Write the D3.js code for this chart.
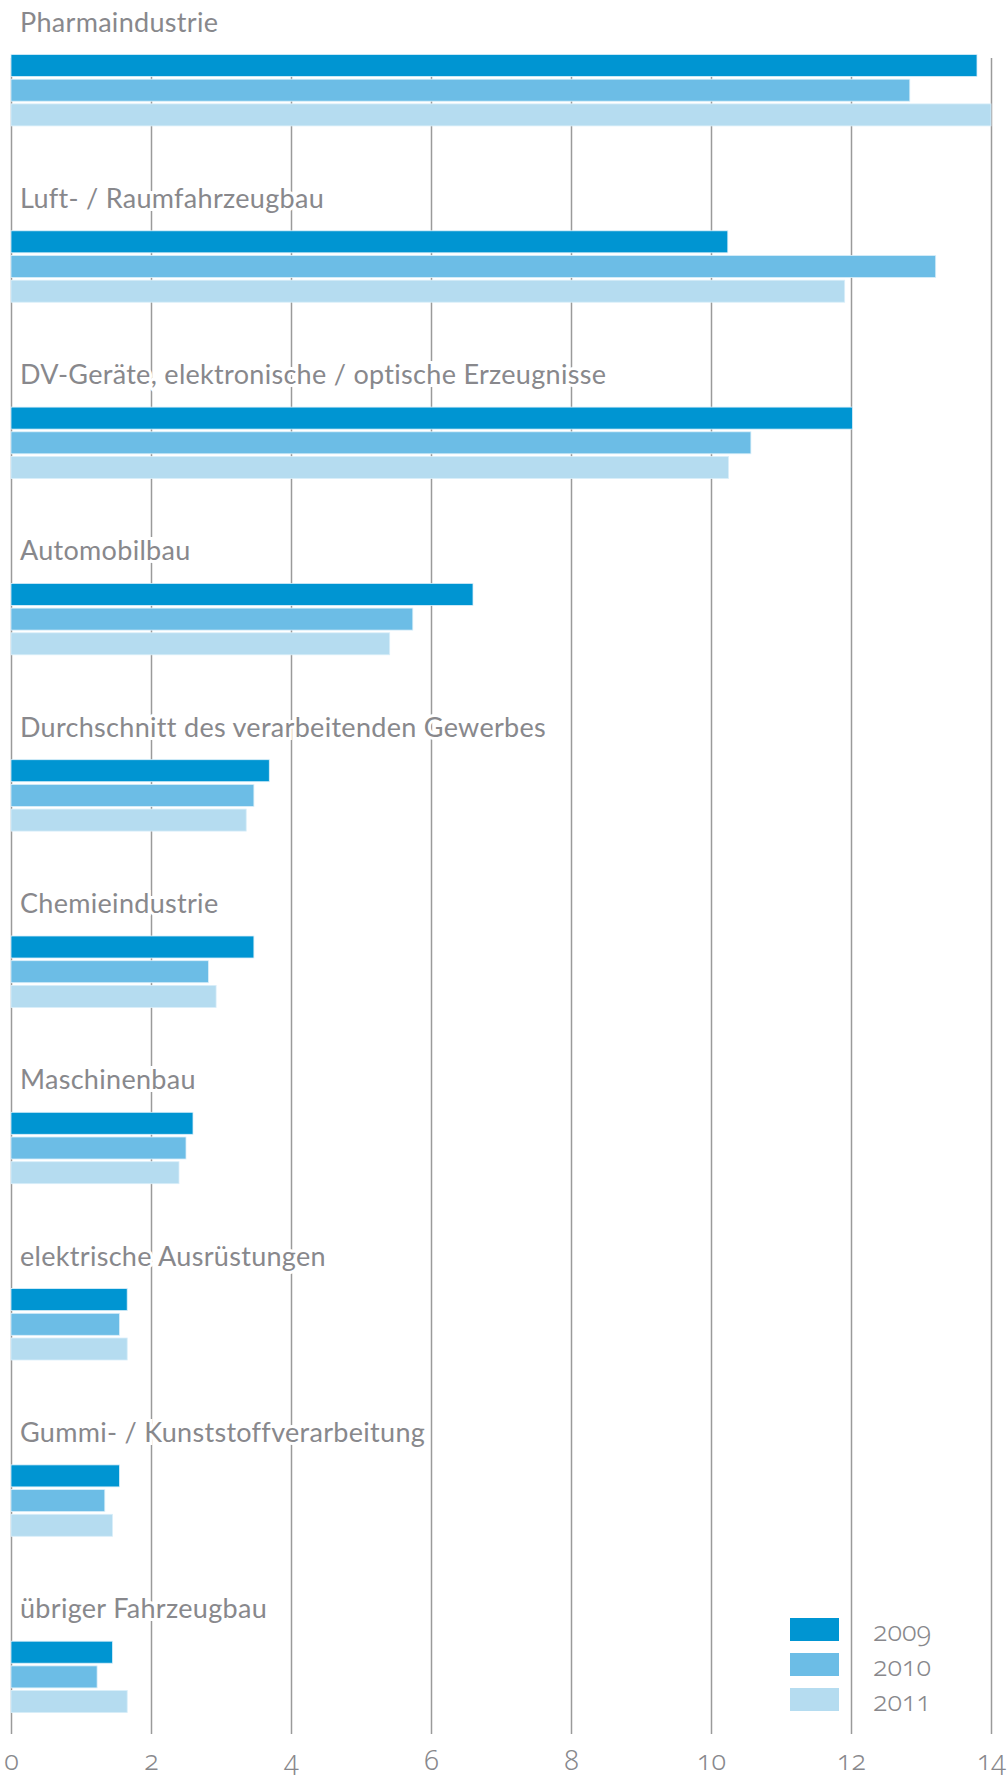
<!DOCTYPE html>
<html>
<head>
<meta charset="utf-8">
<script src="https://cdn.jsdelivr.net/npm/d3@7"></script>
<style>
	body { margin: 0; background: #fff; }
	.label { font-family: Lato, sans-serif; font-size: 27px; letter-spacing: 0.3px; fill: #88888c; }
	.num { font-family: "Noto Sans", sans-serif; font-size: 27px; font-weight: 300; fill: #88888c; font-variant-numeric: oldstyle-nums; font-feature-settings: "onum" 1; }
</style>
</head>
<body>
<svg class="chart"></svg>
<script>
// Branchen (oben nach unten)
var categories = [
	'Pharmaindustrie',
	'Luft- / Raumfahrzeugbau',
	'DV-Geräte, elektronische / optische Erzeugnisse',
	'Automobilbau',
	'Durchschnitt des verarbeitenden Gewerbes',
	'Chemieindustrie',
	'Maschinenbau',
	'elektrische Ausrüstungen',
	'Gummi- / Kunststoffverarbeitung',
	'übriger Fahrzeugbau'
];
var years = [ '2009', '2010', '2011' ];
var values2009 = [ 13.8, 10.24, 12.02, 6.6, 3.69, 3.47, 2.6, 1.66, 1.55, 1.45 ];
var values2010 = [ 12.84, 13.21, 10.57, 5.74, 3.47, 2.82, 2.5, 1.55, 1.34, 1.23 ];
var values2011 = [ 14.0, 11.91, 10.25, 5.41, 3.36, 2.93, 2.4, 1.66, 1.45, 1.66 ];
var xTicks = [ 0, 2, 4, 6, 8, 10, 12, 14 ];

var colors = [ '#0095d2', '#6cbde6', '#b5dcf0' ];
var series = [ values2009, values2010, values2011 ];

var width = 1008, height = 1777;
var top0 = 54.5, step = 176.3;
var gridTop = 58, gridBottom = 1734;

var svg = d3.select('.chart')
	.attr('width', width)
	.attr('height', height);

var x = d3.scaleLinear().domain([ 0, 14 ]).range([ 11, 991 ]);

var y0 = d3.scaleBand()
	.domain(categories)
	.range([ top0, top0 + step * categories.length ]);

var y1 = d3.scaleBand()
	.domain(years)
	.range([ 0, 71.4 ])
	.paddingInner(0.109);

// Gitterlinien + Achsenbeschriftung
var axis = d3.axisBottom(x)
	.tickValues(xTicks)
	.tickSize(-(gridBottom - gridTop))
	.tickFormat(d3.format('d'));

var gAxis = svg.append('g')
	.attr('transform', 'translate(0,' + gridBottom + ')')
	.call(axis);

gAxis.select('.domain').remove();
gAxis.selectAll('.tick line')
	.attr('stroke', '#9a9a9a')
	.attr('stroke-width', 1.5);
gAxis.selectAll('.tick text')
	.attr('class', 'num')
	.attr('y', 36)
	.attr('dy', null)
	.attr('fill', null)
	.attr('font-size', null)
	.attr('font-family', null);

// Balken
var groups = svg.append('g').selectAll('g')
	.data(categories)
	.enter()
	.append('g')
	.attr('transform', d => 'translate(0,' + y0(d) + ')');

groups.selectAll('rect')
	.data((d, i) => series.map((s, j) => ({ year: years[j], value: s[i], color: colors[j] })))
	.enter()
	.append('rect')
	.attr('x', x(0))
	.attr('y', d => y1(d.year))
	.attr('width', d => x(d.value) - x(0))
	.attr('height', y1.bandwidth())
	.attr('fill', d => d.color)
	.attr('stroke', '#d9eef9')
	.attr('stroke-width', 0.8);

// Branchenbezeichnungen mit weißem Rand über den Gitterlinien
groups.append('text')
	.attr('class', 'label')
	.attr('x', 20)
	.attr('y', -23)
	.attr('stroke', '#fff')
	.attr('stroke-width', 6)
	.attr('paint-order', 'stroke')
	.text(d => d);

// Legende
var legend = svg.append('g')
	.selectAll('g')
	.data(years)
	.enter()
	.append('g')
	.attr('transform', (d, i) => 'translate(790,' + (1618 + i * 35) + ')');

legend.append('rect')
	.attr('width', 49)
	.attr('height', 23)
	.attr('fill', (d, i) => colors[i]);

legend.append('text')
	.attr('class', 'num')
	.attr('x', 83)
	.attr('y', 23)
	.text(d => d);
</script>
</body>
</html>
